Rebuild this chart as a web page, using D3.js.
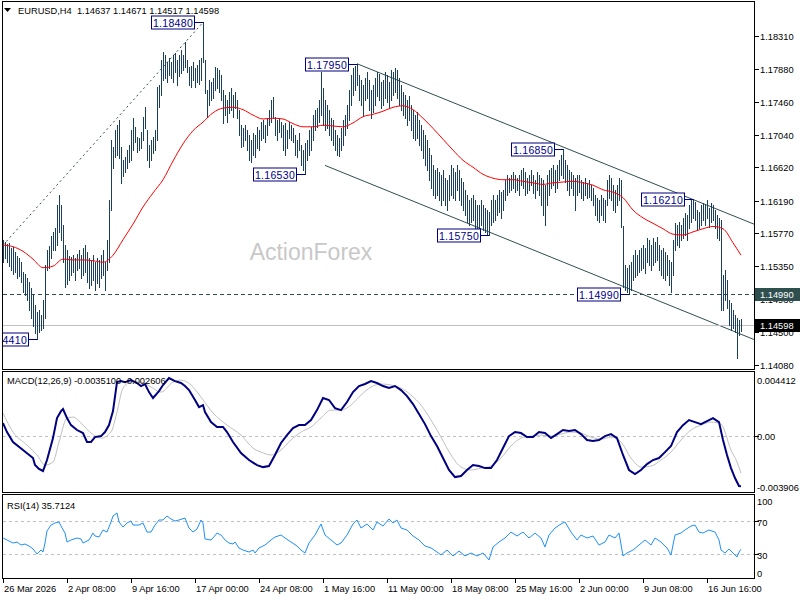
<!DOCTYPE html>
<html>
<head>
<meta charset="utf-8">
<script src="https://cdn.jsdelivr.net/npm/d3@7"></script>
<style>
    body { margin: 0; background: #fff; }
    svg { display: block; font-family: "Liberation Sans", Arial, sans-serif; }
</style>
</head>
<body>
<svg id="chart" width="800" height="600"></svg>
<script>

// ---- Data ----

// H4 bar highs / lows, 10 bars per line
const barHigh = [
    1.1569,1.1566,1.1564,1.1565,1.1558,1.1560,1.1553,1.1548,1.1546,1.1540,
    1.1528,1.1525,1.1520,1.1515,1.1507,1.1499,1.1485,1.1476,1.1479,1.1472,
    1.1492,1.1537,1.1556,1.1561,1.1574,1.1579,1.1584,1.1614,1.1626,1.1614,
    1.1588,1.1562,1.1556,1.1548,1.1547,1.1549,1.1546,1.1551,1.1556,1.1549,
    1.1558,1.1562,1.1553,1.1546,1.1543,1.1549,1.1540,1.1546,1.1543,1.1549,
    1.1556,1.1540,1.1569,1.1620,1.1697,1.1688,1.1710,1.1716,1.1723,1.1688,
    1.1671,1.1675,1.1684,1.1691,1.1710,1.1725,1.1714,1.1701,1.1700,1.1707,
    1.1727,1.1739,1.1710,1.1691,1.1697,1.1701,1.1710,1.1765,1.1768,1.1800,
    1.1810,1.1806,1.1797,1.1802,1.1797,1.1806,1.1809,1.1800,1.1806,1.1813,
    1.1806,1.1823,1.1800,1.1791,1.1792,1.1797,1.1790,1.1794,1.1800,1.1802,
    1.1848,1.1800,1.1761,1.1774,1.1772,1.1777,1.1791,1.1790,1.1787,1.1781,
    1.1761,1.1755,1.1749,1.1759,1.1764,1.1755,1.1759,1.1749,1.1736,1.1716,
    1.1712,1.1716,1.1710,1.1703,1.1697,1.1706,1.1703,1.1714,1.1710,1.1720,
    1.1723,1.1716,1.1725,1.1736,1.1749,1.1752,1.1727,1.1723,1.1725,1.1720,
    1.1716,1.1719,1.1710,1.1720,1.1716,1.1712,1.1703,1.1697,1.1706,1.1691,
    1.1684,1.1693,1.1697,1.1710,1.1714,1.1729,1.1736,1.1738,1.1749,1.1785,
    1.1764,1.1749,1.1742,1.1736,1.1725,1.1723,1.1710,1.1703,1.1700,1.1712,
    1.1723,1.1729,1.1742,1.1761,1.1781,1.1790,1.1792,1.1795,1.1781,1.1774,
    1.1768,1.1777,1.1785,1.1774,1.1761,1.1768,1.1777,1.1785,1.1782,1.1772,
    1.1774,1.1785,1.1781,1.1772,1.1787,1.1785,1.1790,1.1787,1.1777,1.1768,
    1.1759,1.1755,1.1749,1.1754,1.1742,1.1736,1.1729,1.1733,1.1723,1.1716,
    1.1710,1.1703,1.1697,1.1687,1.1678,1.1665,1.1659,1.1661,1.1656,1.1652,
    1.1659,1.1648,1.1646,1.1652,1.1665,1.1661,1.1656,1.1665,1.1659,1.1648,
    1.1643,1.1633,1.1626,1.1620,1.1623,1.1626,1.1620,1.1614,1.1614,1.1620,
    1.1614,1.1610,1.1607,1.1605,1.1620,1.1626,1.1620,1.1626,1.1633,1.1630,
    1.1633,1.1646,1.1652,1.1648,1.1652,1.1656,1.1652,1.1648,1.1652,1.1659,
    1.1661,1.1656,1.1648,1.1652,1.1659,1.1652,1.1646,1.1656,1.1652,1.1648,
    1.1646,1.1639,1.1652,1.1659,1.1661,1.1665,1.1659,1.1665,1.1671,1.1678,
    1.1685,1.1671,1.1665,1.1659,1.1656,1.1652,1.1648,1.1652,1.1652,1.1646,
    1.1643,1.1648,1.1642,1.1646,1.1639,1.1635,1.1626,1.1623,1.1620,1.1626,
    1.1623,1.1620,1.1646,1.1652,1.1648,1.1639,1.1633,1.1639,1.1648,1.1646,
    1.1586,1.1537,1.1533,1.1537,1.1540,1.1549,1.1556,1.1549,1.1556,1.1558,
    1.1562,1.1558,1.1571,1.1569,1.1562,1.1571,1.1566,1.1572,1.1562,1.1556,
    1.1558,1.1553,1.1549,1.1543,1.1540,1.1569,1.1590,1.1588,1.1592,1.1588,
    1.1597,1.1603,1.1601,1.1614,1.1620,1.1621,1.1617,1.1607,1.1605,1.1614,
    1.1616,1.1614,1.1620,1.1610,1.1616,1.1614,1.1607,1.1601,1.1597,1.1594,
    1.1524,1.1530,1.1517,1.1492,1.1488,1.1479,1.1472,1.1468,1.1466,1.14671
];
const barLow = [
    1.1540,1.1545,1.1540,1.1535,1.1530,1.1525,1.1528,1.1520,1.1522,1.1515,
    1.1502,1.1498,1.1492,1.1479,1.1468,1.1458,1.1449,1.1441,1.1450,1.1453,
    1.1456,1.1468,1.1530,1.1533,1.1546,1.1556,1.1556,1.1562,1.1579,1.1569,
    1.1540,1.1508,1.1512,1.1517,1.1524,1.1528,1.1517,1.1530,1.1533,1.1520,
    1.1524,1.1528,1.1515,1.1507,1.1511,1.1517,1.1504,1.1513,1.1508,1.1520,
    1.1524,1.1504,1.1530,1.1540,1.1607,1.1661,1.1675,1.1678,1.1674,1.1642,
    1.1651,1.1656,1.1661,1.1669,1.1671,1.1684,1.1695,1.1682,1.1684,1.1687,
    1.1697,1.1712,1.1671,1.1662,1.1671,1.1680,1.1684,1.1697,1.1739,1.1755,
    1.1774,1.1777,1.1772,1.1781,1.1777,1.1772,1.1784,1.1768,1.1779,1.1783,
    1.1787,1.1791,1.1784,1.1768,1.1765,1.1774,1.1765,1.1772,1.1769,1.1774,
    1.1797,1.1758,1.1727,1.1742,1.1749,1.1751,1.1761,1.1764,1.1759,1.1749,
    1.1719,1.1729,1.1720,1.1732,1.1736,1.1727,1.1738,1.1725,1.1703,1.1688,
    1.1689,1.1697,1.1684,1.1671,1.1669,1.1678,1.1675,1.1687,1.1684,1.1697,
    1.1700,1.1695,1.1703,1.1716,1.1720,1.1725,1.1703,1.1697,1.1707,1.1701,
    1.1684,1.1678,1.1687,1.1700,1.1697,1.1695,1.1678,1.1675,1.1684,1.1665,
    1.1659,1.1653,1.1671,1.1678,1.1684,1.1697,1.1710,1.1714,1.1720,1.1729,
    1.1716,1.1710,1.1712,1.1703,1.1697,1.1691,1.1684,1.1678,1.1677,1.1684,
    1.1691,1.1703,1.1712,1.1723,1.1742,1.1755,1.1761,1.1768,1.1749,1.1742,
    1.1729,1.1749,1.1751,1.1736,1.1725,1.1733,1.1742,1.1754,1.1749,1.1738,
    1.1742,1.1751,1.1746,1.1738,1.1749,1.1755,1.1759,1.1751,1.1742,1.1736,
    1.1729,1.1725,1.1716,1.1723,1.1710,1.1700,1.1697,1.1700,1.1691,1.1684,
    1.1674,1.1665,1.1659,1.1646,1.1636,1.1627,1.1623,1.1627,1.1620,1.1614,
    1.1620,1.1614,1.1607,1.1620,1.1627,1.1623,1.1620,1.1633,1.1620,1.1614,
    1.1607,1.1601,1.1592,1.1588,1.1592,1.1594,1.1584,1.1581,1.1584,1.1588,
    1.1581,1.1579,1.1576,1.1575,1.1588,1.1592,1.1594,1.1601,1.1605,1.1597,
    1.1607,1.1620,1.1626,1.1630,1.1633,1.1636,1.1630,1.1633,1.1626,1.1639,
    1.1636,1.1626,1.1629,1.1633,1.1639,1.1629,1.1623,1.1633,1.1626,1.1614,
    1.1601,1.1588,1.1614,1.1627,1.1636,1.1639,1.1630,1.1636,1.1646,1.1652,
    1.1648,1.1643,1.1633,1.1627,1.1636,1.1627,1.1607,1.1627,1.1630,1.1623,
    1.1620,1.1626,1.1623,1.1624,1.1620,1.1614,1.1601,1.1594,1.1592,1.1601,
    1.1594,1.1592,1.1614,1.1623,1.1620,1.1607,1.1605,1.1614,1.1620,1.1585,
    1.1508,1.1504,1.1502,1.1499,1.1504,1.1517,1.1521,1.1524,1.1528,1.1530,
    1.1533,1.1526,1.1540,1.1537,1.1530,1.1537,1.1540,1.1543,1.1530,1.1524,
    1.1520,1.1517,1.1524,1.1511,1.1502,1.1524,1.1556,1.1562,1.1560,1.1569,
    1.1571,1.1575,1.1569,1.1584,1.1592,1.1597,1.1594,1.1581,1.1584,1.1588,
    1.1594,1.1588,1.1597,1.1585,1.1592,1.1594,1.1584,1.1571,1.1569,1.1479,
    1.1479,1.1492,1.1481,1.1460,1.1453,1.1456,1.1450,1.1417,1.1447,1.14517
];

// red moving average, one value every 5 bars (last one = last bar)
const MA_STEP = 5;
const maValues = [
    1.1562,1.1560,1.1554,1.1544,1.1533,1.1535,1.1544,1.1543,1.1543,1.1542,
    1.1540,1.1549,1.1569,1.1589,1.1611,1.1629,1.1646,1.1670,1.1692,1.1709,
    1.1720,1.1732,1.1738,1.1739,1.1736,1.1729,1.1724,1.1725,1.1724,1.1718,
    1.1714,1.1714,1.1716,1.1715,1.1714,1.1719,1.1727,1.1730,1.1734,1.1739,
    1.1741,1.1736,1.1725,1.1712,1.1698,1.1684,1.1671,1.1662,1.1653,1.1648,
    1.1646,1.1646,1.1644,1.1642,1.1640,1.1642,1.1643,1.1644,1.1642,1.1639,
    1.1633,1.1630,1.1623,1.1607,1.1597,1.1590,1.1583,1.1576,1.1575,1.1579,
    1.1583,1.1586,1.1583,1.1565,1.1549
];

// MACD main line (bar index, value)
const macdBars = [0,2,5,10,15,16,18,20,22,25,27,29,30,32,34,37,40,42,44,46,49,51,53,55,57,59,61,64,67,69,71,73,75,78,80,83,86,89,91,93,96,98,100,101,104,107,110,112,115,119,123,127,130,133,136,139,142,145,148,151,154,157,160,163,166,169,172,175,178,181,184,187,190,193,196,199,202,205,208,211,214,217,220,223,226,229,232,235,238,241,244,247,250,253,256,259,262,265,268,271,274,277,280,283,286,289,292,295,298,301,304,307,310,313,316,319,322,325,328,331,334,337,340,343,346,349,352,355,358,360,362,364,366,368,369];
const macdValues = [0.00087,0.00025,-0.00044,-0.00100,-0.00155,-0.00204,-0.00231,-0.00245,-0.00169,-0.00017,0.00122,0.00170,0.00184,0.00122,0.00073,0.00039,0.00018,-0.00044,-0.00044,-0.00010,-0.00003,0.00025,0.00073,0.00170,0.00371,0.00378,0.00371,0.00385,0.00365,0.00344,0.00358,0.00302,0.00261,0.00309,0.00351,0.00399,0.00378,0.00365,0.00344,0.00316,0.00247,0.00198,0.00212,0.00164,0.00094,0.00060,0.00060,0.00025,-0.00044,-0.00121,-0.00169,-0.00204,-0.00218,-0.00211,-0.00134,-0.00051,0.00004,0.00053,0.00073,0.00073,0.00108,0.00177,0.00261,0.00247,0.00191,0.00177,0.00233,0.00302,0.00344,0.00358,0.00378,0.00365,0.00344,0.00330,0.00344,0.00316,0.00274,0.00219,0.00150,0.00080,-0.00003,-0.00072,-0.00155,-0.00238,-0.00287,-0.00280,-0.00238,-0.00204,-0.00211,-0.00225,-0.00225,-0.00169,-0.00086,-0.00003,0.00025,0.00018,-0.00010,-0.00010,0.00025,0.00018,-0.00017,0.00011,0.00039,0.00032,0.00039,0.00011,-0.00030,-0.00037,-0.00030,-0.00003,0.00011,-0.00017,-0.00134,-0.00238,-0.00266,-0.00238,-0.00197,-0.00169,-0.00155,-0.00114,-0.00072,0.00025,0.00073,0.00108,0.00094,0.00080,0.00101,0.00122,0.00094,-0.00030,-0.00134,-0.00225,-0.00294,-0.00349,-0.00351];

// MACD signal line (bar index, value)
const signalBars = [0,5,12,17,21,25,28,32,35,39,44,49,54,57,60,64,69,74,79,85,89,94,99,105,112,119,125,129,134,139,144,149,154,159,164,169,174,179,184,189,194,199,204,209,214,219,224,229,234,239,244,249,254,259,264,269,274,279,284,289,294,299,304,309,314,319,324,329,334,339,344,349,354,359,364,367,369];
const signalValues = [0.00157,0.00025,-0.00065,-0.00134,-0.00204,-0.00183,-0.00044,0.00122,0.00129,0.00087,0.00018,-0.00017,0.00025,0.00164,0.00330,0.00371,0.00371,0.00337,0.00302,0.00371,0.00385,0.00351,0.00267,0.00157,0.00073,0.00004,-0.00086,-0.00114,-0.00134,-0.00100,-0.00030,0.00025,0.00060,0.00122,0.00177,0.00177,0.00212,0.00281,0.00337,0.00358,0.00351,0.00330,0.00281,0.00212,0.00108,-0.00010,-0.00134,-0.00218,-0.00238,-0.00225,-0.00211,-0.00155,-0.00072,-0.00017,-0.00003,0.00004,-0.00003,0.00011,0.00025,0.00018,-0.00010,-0.00024,-0.00010,-0.00044,-0.00155,-0.00218,-0.00211,-0.00169,-0.00114,-0.00030,0.00039,0.00073,0.00094,0.00080,-0.00100,-0.00183,-0.00261];

// RSI(14) (bar index, value)
const rsiBars = [0,2,4,5,7,9,11,13,15,17,18,19,20,21,22,23,24,26,28,29,31,32,34,37,39,40,43,45,46,48,50,52,54,55,57,58,60,62,64,65,68,70,72,74,76,78,80,82,84,86,88,91,93,95,97,99,100,101,104,105,107,109,111,113,115,116,118,120,123,125,126,128,131,134,136,139,141,144,147,149,151,153,156,159,161,164,167,169,172,175,177,179,182,185,187,190,193,195,197,199,202,205,208,211,214,217,219,222,225,228,231,234,237,240,243,245,248,251,254,257,260,263,266,269,271,273,276,279,281,284,287,289,292,295,298,301,303,306,308,310,312,315,318,321,324,326,329,332,334,336,339,341,344,346,348,350,353,356,358,359,361,363,365,367,368,369];
const rsiValues = [49.4,47.0,44.5,43.3,44.5,40.9,42.1,39.7,36.1,30.0,32.4,34.8,32.4,43.3,58,61.5,65.1,67.6,68.8,63.9,55.4,44.5,47.0,49.4,48.2,43.3,47.0,55.4,51.8,50.6,59.1,56.6,68.8,76.1,79.7,68.8,62.7,67.6,70.0,65.1,65.1,67.6,56.6,56.6,65.1,71.2,71.2,76.1,72.4,70.0,71.2,73.6,61.5,56.6,60.3,71.2,67.6,48.2,47.0,49.4,55.4,53.0,47.0,43.3,42.1,44.5,37.3,34.8,32.4,34.8,31.2,37.3,40.9,47.0,50.6,53.0,49.4,44.5,39.7,34.8,31.2,43.3,53.0,66.4,53.0,47.0,40.9,43.3,53.0,66.4,71.2,61.5,66.4,59.1,68.8,63.9,72.4,67.6,71.2,61.5,59.1,51.8,47.0,39.7,37.3,32.4,28.8,34.8,27.6,33.6,27.6,31.2,27.6,31.2,22.7,38.5,44.5,49.4,56.6,51.8,56.6,49.4,55.4,49.4,38.5,53.0,61.5,66.4,68.8,56.6,47.0,53.0,49.4,51.8,40.9,44.5,53.0,49.4,55.4,27.6,31.2,34.8,40.9,47.0,40.9,49.4,44.5,37.3,28.8,53.0,55.4,59.1,63.9,65.1,56.6,55.4,59.1,56.6,47.0,34.8,31.2,36.1,31.2,26.4,32.4,35.7124];

// axes
const priceTicks = [1.18310,1.17880,1.17460,1.17040,1.16620,1.16190,1.15770,1.15350,1.14930,1.14500,1.14080];
const macdTicks = [0.004412, 0, -0.003906];
const macdTickText = ['0.004412', '0.00', '-0.003906'];
const rsiTicks = [100, 70, 30, 0];
const timeLabels = ['26 Mar 2026','2 Apr 08:00','9 Apr 16:00','17 Apr 00:00','24 Apr 08:00','1 May 16:00','11 May 00:00','18 May 08:00','25 May 16:00','2 Jun 00:00','9 Jun 08:00','16 Jun 16:00'];
const TIME_STEP = 32;

// swing point labels (bar index, price)
const swingBars = [100, 177, 151, 280, 243, 345, 313, 17];
const swingPrices = [1.18480, 1.17950, 1.16530, 1.16850, 1.15750, 1.16210, 1.14990, 1.14410];

// trend lines: [bar, price] pairs
const channelTop = [[177, 1.17950], [376, 1.15884]];
const channelBottom = [[161, 1.16644], [376, 1.14402]];
const upTrend = [[0, 1.1562], [100, 1.18480]];
const levelPrice = 1.14990;
const lastClose = 1.14598;
const ohlc = ['1.14637', '1.14671', '1.14517', '1.14598'];

// ---- Layout ----
const BAR_COLOR = '#1b405c';
const FONT = 9.3;
const svg = d3.select('#chart');

const x = d3.scaleLinear().domain([0, barHigh.length - 1]).range([3, 741]);
const y = d3.scaleLinear().domain([priceTicks[priceTicks.length - 1], priceTicks[0]]).range([365, 35.7]);
const yMacd = d3.scaleLinear().domain([macdTicks[2], macdTicks[0]]).range([492, 372]);
const yRsi = d3.scaleLinear().domain([0, 100]).range([578.75, 496.25]);

const px = (v) => Math.round(v) + 0.5;

// clip paths
const defs = svg.append('defs');
defs.append('clipPath').attr('id', 'clipMain')
    .append('rect').attr('x', 3).attr('y', 2).attr('width', 751).attr('height', 367);
defs.append('clipPath').attr('id', 'clipMacd')
    .append('rect').attr('x', 3).attr('y', 372).attr('width', 751).attr('height', 120);
defs.append('clipPath').attr('id', 'clipRsi')
    .append('rect').attr('x', 3).attr('y', 495).attr('width', 751).attr('height', 83);

// ---- Main price panel ----
const main = svg.append('g').attr('clip-path', 'url(#clipMain)');

main.append('text')
    .attr('x', 311).attr('y', 260)
    .attr('text-anchor', 'middle')
    .attr('font-size', 23)
    .attr('fill', '#c8c8c8')
    .text('ActionForex');

const lineOf = (pts) => d3.line().x((d) => x(d[0])).y((d) => y(d[1]))(pts);

main.append('path').attr('d', lineOf(upTrend))
    .attr('stroke', '#2f4f4f').attr('stroke-dasharray', '2,3').attr('fill', 'none');
main.append('path').attr('d', lineOf(channelTop))
    .attr('stroke', '#2f4f4f').attr('fill', 'none');
main.append('path').attr('d', lineOf(channelBottom))
    .attr('stroke', '#2f4f4f').attr('fill', 'none');

main.append('line')
    .attr('x1', 3).attr('x2', 755)
    .attr('y1', px(y(levelPrice))).attr('y2', px(y(levelPrice)))
    .attr('stroke', '#2f4f4f').attr('stroke-dasharray', '4,3');
main.append('line')
    .attr('x1', 3).attr('x2', 755)
    .attr('y1', px(y(lastClose))).attr('y2', px(y(lastClose)))
    .attr('stroke', '#c0c0c0');

// Bars
main.append('g').selectAll('line')
    .data(d3.range(barHigh.length))
    .enter().append('line')
        .attr('x1', (i) => px(x(i)))
        .attr('x2', (i) => px(x(i)))
        .attr('y1', (i) => Math.round(y(barHigh[i])))
        .attr('y2', (i) => Math.round(y(barLow[i])) + 1)
        .attr('stroke', BAR_COLOR);

// Moving average
main.append('path')
    .datum(maValues)
    .attr('d', d3.line()
        .x((d, k) => x(Math.min(k * MA_STEP, barHigh.length - 1)))
        .y((d) => y(d))
        .curve(d3.curveMonotoneX))
    .attr('stroke', '#ff0000').attr('fill', 'none');

// Swing labels
const swing = main.append('g').selectAll('g')
    .data(d3.range(swingBars.length))
    .enter().append('g')
        .attr('transform', (k) => 'translate(' + px(x(swingBars[k])) + ',' + px(y(swingPrices[k])) + ')');
swing.append('line')
    .attr('x1', -9).attr('x2', 0).attr('y1', 0).attr('y2', 0)
    .attr('stroke', '#000080');
swing.append('rect')
    .attr('x', -52).attr('y', -6.5).attr('width', 43).attr('height', 13)
    .attr('fill', '#fff').attr('stroke', '#000080');
swing.append('text')
    .attr('x', -30.5).attr('y', 4)
    .attr('text-anchor', 'middle')
    .attr('font-size', 10.5)
    .attr('letter-spacing', 0.3)
    .attr('fill', '#00008b')
    .text((k) => swingPrices[k].toFixed(5));

// ---- MACD panel ----
const macd = svg.append('g').attr('clip-path', 'url(#clipMacd)');
macd.append('line')
    .attr('x1', 3).attr('x2', 755)
    .attr('y1', px(yMacd(0))).attr('y2', px(yMacd(0)))
    .attr('stroke', '#c0c0c0').attr('stroke-dasharray', '3,3');
macd.append('path')
    .datum(d3.range(signalBars.length))
    .attr('d', d3.line().x((k) => x(signalBars[k])).y((k) => yMacd(signalValues[k])).curve(d3.curveMonotoneX))
    .attr('stroke', '#c0c0c0').attr('fill', 'none');
macd.append('path')
    .datum(d3.range(macdBars.length))
    .attr('d', d3.line().x((k) => x(macdBars[k])).y((k) => yMacd(macdValues[k])))
    .attr('stroke', '#000080').attr('stroke-width', 2).attr('fill', 'none');

// ---- RSI panel ----
const rsi = svg.append('g').attr('clip-path', 'url(#clipRsi)');
[70, 30].forEach((lv) => {
    rsi.append('line')
        .attr('x1', 3).attr('x2', 755)
        .attr('y1', px(yRsi(lv))).attr('y2', px(yRsi(lv)))
        .attr('stroke', '#c0c0c0').attr('stroke-dasharray', '3,3');
});
rsi.append('path')
    .datum(d3.range(rsiBars.length))
    .attr('d', d3.line().x((k) => x(rsiBars[k])).y((k) => yRsi(rsiValues[k])))
    .attr('stroke', '#1e90ff').attr('fill', 'none');

// ---- Frames ----
const frames = [[1.5, 369.5], [371.5, 492.5], [494.5, 578.5]];
frames.forEach((f) => {
    svg.append('rect')
        .attr('x', 2.5).attr('y', f[0])
        .attr('width', 752).attr('height', f[1] - f[0])
        .attr('fill', 'none').attr('stroke', '#000');
});

// ---- Right axis (price) ----
const axisG = svg.append('g').attr('font-size', FONT).attr('fill', '#000');
priceTicks.forEach((p) => {
    const ty = px(y(p));
    axisG.append('line').attr('x1', 755).attr('x2', 759).attr('y1', ty).attr('y2', ty).attr('stroke', '#000');
    axisG.append('text').attr('x', 760).attr('y', ty + 3.5).text(p.toFixed(5));
});

// highlighted price tags
[[levelPrice, '#2f4f4f'], [lastClose, '#000']].forEach((t) => {
    const ty = px(y(t[0]));
    axisG.append('rect').attr('x', 755).attr('y', ty - 6.5).attr('width', 45).attr('height', 13).attr('fill', t[1]);
    axisG.append('text').attr('x', 760).attr('y', ty + 3.5).attr('fill', '#fff').text(t[0].toFixed(5));
});

// MACD axis
macdTicks.forEach((v, k) => {
    const ty = yMacd(v);
    const ly = k === 0 ? ty + 8 : k === 2 ? ty - 5 : ty + 1;
    axisG.append('text').attr('x', 757).attr('y', ly + 3.5).text(macdTickText[k]);
});
axisG.append('line').attr('x1', 755).attr('x2', 759)
    .attr('y1', px(yMacd(0))).attr('y2', px(yMacd(0))).attr('stroke', '#000');

// RSI axis
rsiTicks.forEach((v) => {
    const ty = yRsi(v);
    const ly = v === 100 ? ty + 5.5 : v === 0 ? ty - 5.5 : ty + 1.5;
    axisG.append('text').attr('x', 757).attr('y', ly + 3.5).text(v);
    if (v === 70 || v === 30) {
        axisG.append('line').attr('x1', 755).attr('x2', 759)
            .attr('y1', px(ty)).attr('y2', px(ty)).attr('stroke', '#000');
    }
});

// ---- Time axis ----
timeLabels.forEach((t, k) => {
    const tx = px(x(k * TIME_STEP));
    axisG.append('line').attr('x1', tx).attr('x2', tx).attr('y1', 579).attr('y2', 583).attr('stroke', '#000');
    axisG.append('text').attr('x', tx + 0.5).attr('y', 592).text(t);
});

// ---- Titles ----
svg.append('path').attr('d', 'M4,8 L11,8 L7.5,12 Z').attr('fill', '#000');
svg.append('text')
    .attr('x', 18).attr('y', 14)
    .attr('font-size', FONT)
    .attr('xml:space', 'preserve')
    .text('EURUSD,H4  ' + ohlc.join(' '));
svg.append('text')
    .attr('x', 7).attr('y', 383.5)
    .attr('font-size', FONT)
    .text('MACD(12,26,9) ' + macdValues[macdValues.length - 1].toFixed(6).replace('0.00351', '0.003510') + ' ' + '-0.002606');
svg.append('text')
    .attr('x', 7).attr('y', 508.5)
    .attr('font-size', FONT)
    .text('RSI(14) ' + rsiValues[rsiValues.length - 1]);

</script>
</body>
</html>
